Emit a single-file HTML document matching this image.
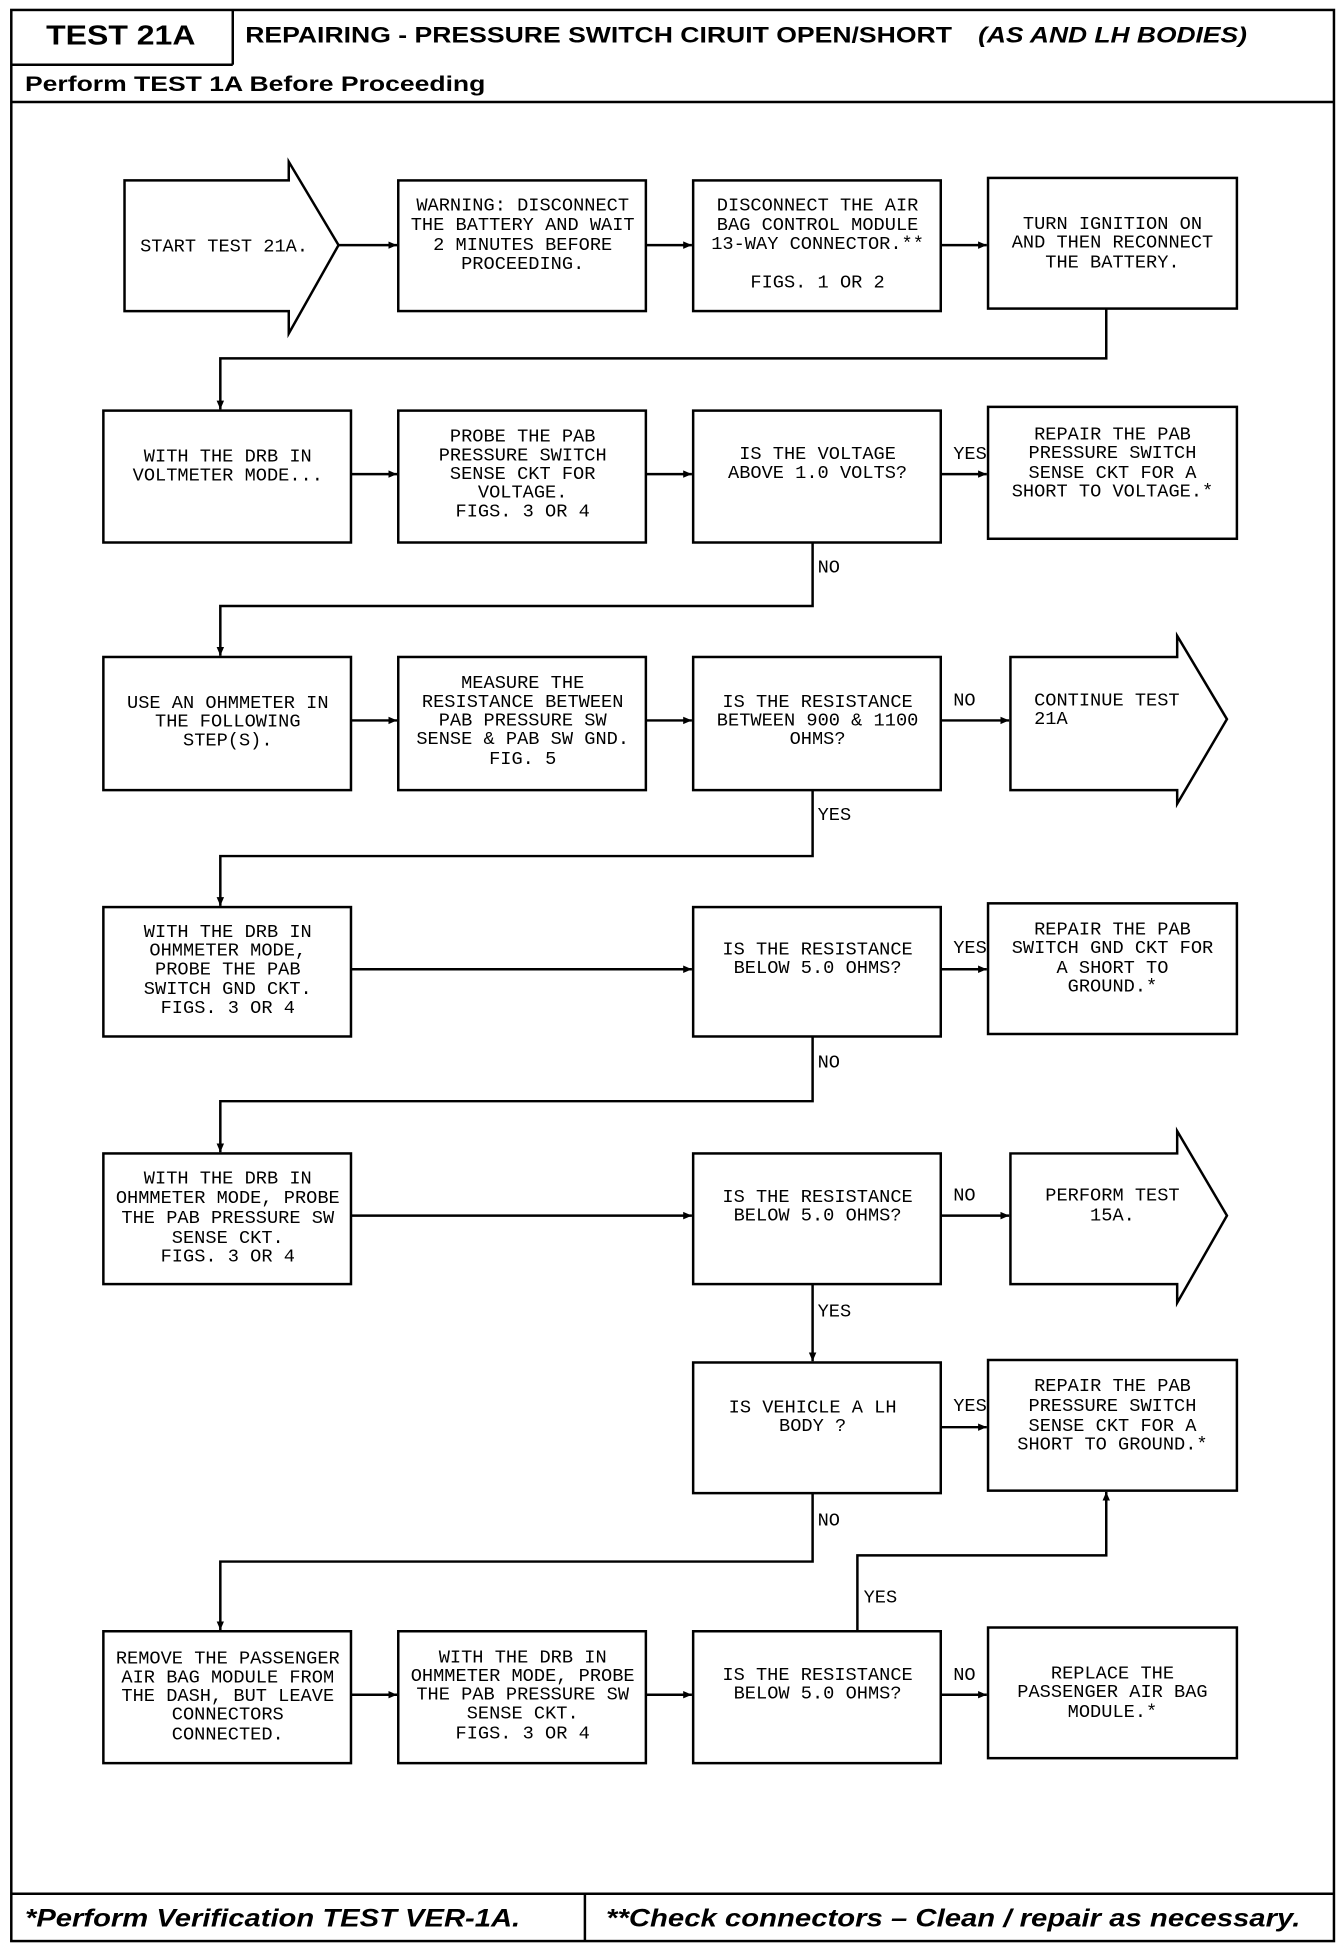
<!DOCTYPE html>
<html><head><meta charset="utf-8"><style>
html,body{margin:0;padding:0;background:#fff}
svg{display:block}
.t{font-family:"Liberation Mono",monospace;font-size:15px;text-anchor:middle;dominant-baseline:central;fill:#000}
.l{text-anchor:start}
.h{font-family:"Liberation Sans",sans-serif;font-weight:bold;fill:#000;dominant-baseline:central}
</style></head><body>
<svg width="1344" height="1956" viewBox="0 0 1080 1572" xmlns="http://www.w3.org/2000/svg">
<defs><marker id="a" markerWidth="8" markerHeight="8" refX="7" refY="4" orient="auto" markerUnits="userSpaceOnUse"><path d="M0,1 L7,4 L0,7 z" fill="#000"/></marker></defs>
<g fill="none" stroke="#000" stroke-width="2">
<rect x="9" y="8" width="1063" height="1552"/>
<line x1="9" y1="52" x2="187" y2="52"/><line x1="187" y1="8" x2="187" y2="52"/>
<line x1="9" y1="82" x2="1072" y2="82"/>
<line x1="9" y1="1522" x2="1072" y2="1522"/><line x1="470" y1="1522" x2="470" y2="1560"/>
<!-- row1 -->
<path d="M100,145 H232 V130 L272,197 L232,268 V250 H100 Z"/>
<rect x="320" y="145" width="199" height="105"/>
<rect x="557" y="145" width="199" height="105"/>
<rect x="794" y="143" width="200" height="105"/>
<!-- row2 -->
<rect x="83" y="330" width="199" height="106"/>
<rect x="320" y="330" width="199" height="106"/>
<rect x="557" y="330" width="199" height="106"/>
<rect x="794" y="327" width="200" height="106"/>
<!-- row3 -->
<rect x="83" y="528" width="199" height="107"/>
<rect x="320" y="528" width="199" height="107"/>
<rect x="557" y="528" width="199" height="107"/>
<path d="M812,528 H946 V511 L986,578 L946,646 V635 H812 Z"/>
<!-- row4 -->
<rect x="83" y="729" width="199" height="104"/>
<rect x="557" y="729" width="199" height="104"/>
<rect x="794" y="726" width="200" height="105"/>
<!-- row5 -->
<rect x="83" y="927" width="199" height="105"/>
<rect x="557" y="927" width="199" height="105"/>
<path d="M812,927 H946 V909 L986,977 L946,1047 V1032 H812 Z"/>
<!-- row6 -->
<rect x="557" y="1095" width="199" height="105"/>
<rect x="794" y="1093" width="200" height="105"/>
<!-- row7 -->
<rect x="83" y="1311" width="199" height="106"/>
<rect x="320" y="1311" width="199" height="106"/>
<rect x="557" y="1311" width="199" height="106"/>
<rect x="794" y="1308" width="200" height="105"/>
</g>
<g fill="none" stroke="#000" stroke-width="2" marker-end="url(#a)">
<line x1="272" y1="197" x2="319" y2="197"/>
<line x1="519" y1="197" x2="556" y2="197"/>
<line x1="756" y1="197" x2="793" y2="197"/>
<path d="M889,248 V288 H177 V329"/>
<line x1="282" y1="381" x2="319" y2="381"/>
<line x1="519" y1="381" x2="556" y2="381"/>
<line x1="756" y1="381" x2="793" y2="381"/>
<path d="M653,436 V487 H177 V527"/>
<line x1="282" y1="579" x2="319" y2="579"/>
<line x1="519" y1="579" x2="556" y2="579"/>
<line x1="756" y1="579" x2="811" y2="579"/>
<path d="M653,635 V688 H177 V728"/>
<line x1="282" y1="779" x2="556" y2="779"/>
<line x1="756" y1="779" x2="793" y2="779"/>
<path d="M653,833 V885 H177 V926"/>
<line x1="282" y1="977" x2="556" y2="977"/>
<line x1="756" y1="977" x2="811" y2="977"/>
<line x1="653" y1="1032" x2="653" y2="1094"/>
<line x1="756" y1="1147" x2="793" y2="1147"/>
<path d="M653,1200 V1255 H177 V1310"/>
<line x1="282" y1="1362" x2="319" y2="1362"/>
<line x1="519" y1="1362" x2="556" y2="1362"/>
<line x1="756" y1="1362" x2="793" y2="1362"/>
<path d="M689,1311 V1250 H889 V1199"/>
</g>
<!-- header -->
<text class="h" x="37" y="28" font-size="22" textLength="120" lengthAdjust="spacingAndGlyphs">TEST 21A</text>
<text class="h" x="197" y="28" font-size="18" textLength="568" lengthAdjust="spacingAndGlyphs">REPAIRING - PRESSURE SWITCH CIRUIT OPEN/SHORT</text>
<text class="h" x="786" y="28" font-size="18" font-style="italic" textLength="216" lengthAdjust="spacingAndGlyphs">(AS AND LH BODIES)</text>
<text class="h" x="20" y="68" font-size="17" textLength="370" lengthAdjust="spacingAndGlyphs">Perform TEST 1A Before Proceeding</text>
<text class="h" x="20" y="1542" font-size="20" font-style="italic" textLength="398" lengthAdjust="spacingAndGlyphs">*Perform Verification TEST VER-1A.</text>
<text class="h" x="487" y="1542" font-size="20" font-style="italic" textLength="558" lengthAdjust="spacingAndGlyphs">**Check connectors – Clean / repair as necessary.</text>
<!-- row1 -->
<text class="t" x="180" y="198">START TEST 21A.</text>
<text class="t" x="420" y="165">WARNING: DISCONNECT</text><text class="t" x="420" y="181">THE BATTERY AND WAIT</text><text class="t" x="420" y="197">2 MINUTES BEFORE</text><text class="t" x="420" y="212">PROCEEDING.</text>
<text class="t" x="657" y="165">DISCONNECT THE AIR</text><text class="t" x="657" y="181">BAG CONTROL MODULE</text><text class="t" x="657" y="196">13-WAY CONNECTOR.**</text><text class="t" x="657" y="227">FIGS. 1 OR 2</text>
<text class="t" x="894" y="180">TURN IGNITION ON</text><text class="t" x="894" y="195">AND THEN RECONNECT</text><text class="t" x="894" y="211">THE BATTERY.</text>
<!-- row2 -->
<text class="t" x="183" y="367">WITH THE DRB IN</text><text class="t" x="183" y="382">VOLTMETER MODE...</text>
<text class="t" x="420" y="351">PROBE THE PAB</text><text class="t" x="420" y="366">PRESSURE SWITCH</text><text class="t" x="420" y="381">SENSE CKT FOR</text><text class="t" x="420" y="396">VOLTAGE.</text><text class="t" x="420" y="411">FIGS. 3 OR 4</text>
<text class="t" x="657" y="365">IS THE VOLTAGE</text><text class="t" x="657" y="380">ABOVE 1.0 VOLTS?</text>
<text class="t" x="894" y="349">REPAIR THE PAB</text><text class="t" x="894" y="364">PRESSURE SWITCH</text><text class="t" x="894" y="380">SENSE CKT FOR A</text><text class="t" x="894" y="395">SHORT TO VOLTAGE.*</text>
<text class="t l" x="766" y="365">YES</text><text class="t l" x="657" y="456">NO</text>
<!-- row3 -->
<text class="t" x="183" y="565">USE AN OHMMETER IN</text><text class="t" x="183" y="580">THE FOLLOWING</text><text class="t" x="183" y="595">STEP(S).</text>
<text class="t" x="420" y="549">MEASURE THE</text><text class="t" x="420" y="564">RESISTANCE BETWEEN</text><text class="t" x="420" y="579">PAB PRESSURE SW</text><text class="t" x="420" y="594">SENSE &amp; PAB SW GND.</text><text class="t" x="420" y="610">FIG. 5</text>
<text class="t" x="657" y="564">IS THE RESISTANCE</text><text class="t" x="657" y="579">BETWEEN 900 &amp; 1100</text><text class="t" x="657" y="594">OHMS?</text>
<text class="t l" x="831" y="563">CONTINUE TEST</text><text class="t l" x="831" y="578">21A</text>
<text class="t l" x="766" y="563">NO</text><text class="t l" x="657" y="655">YES</text>
<!-- row4 -->
<text class="t" x="183" y="749">WITH THE DRB IN</text><text class="t" x="183" y="764">OHMMETER MODE,</text><text class="t" x="183" y="779">PROBE THE PAB</text><text class="t" x="183" y="795">SWITCH GND CKT.</text><text class="t" x="183" y="810">FIGS. 3 OR 4</text>
<text class="t" x="657" y="763">IS THE RESISTANCE</text><text class="t" x="657" y="778">BELOW 5.0 OHMS?</text>
<text class="t" x="894" y="747">REPAIR THE PAB</text><text class="t" x="894" y="762">SWITCH GND CKT FOR</text><text class="t" x="894" y="778">A SHORT TO</text><text class="t" x="894" y="793">GROUND.*</text>
<text class="t l" x="766" y="762">YES</text><text class="t l" x="657" y="854">NO</text>
<!-- row5 -->
<text class="t" x="183" y="947">WITH THE DRB IN</text><text class="t" x="183" y="963">OHMMETER MODE, PROBE</text><text class="t" x="183" y="979">THE PAB PRESSURE SW</text><text class="t" x="183" y="995">SENSE CKT.</text><text class="t" x="183" y="1010">FIGS. 3 OR 4</text>
<text class="t" x="657" y="962">IS THE RESISTANCE</text><text class="t" x="657" y="977">BELOW 5.0 OHMS?</text>
<text class="t" x="894" y="961">PERFORM TEST</text><text class="t" x="894" y="977">15A.</text>
<text class="t l" x="766" y="961">NO</text><text class="t l" x="657" y="1054">YES</text>
<!-- row6 -->
<text class="t" x="653" y="1131">IS VEHICLE A LH</text><text class="t" x="653" y="1146">BODY ?</text>
<text class="t" x="894" y="1114">REPAIR THE PAB</text><text class="t" x="894" y="1130">PRESSURE SWITCH</text><text class="t" x="894" y="1146">SENSE CKT FOR A</text><text class="t" x="894" y="1161">SHORT TO GROUND.*</text>
<text class="t l" x="766" y="1130">YES</text><text class="t l" x="657" y="1222">NO</text>
<!-- row7 -->
<text class="t" x="183" y="1333">REMOVE THE PASSENGER</text><text class="t" x="183" y="1348">AIR BAG MODULE FROM</text><text class="t" x="183" y="1363">THE DASH, BUT LEAVE</text><text class="t" x="183" y="1378">CONNECTORS</text><text class="t" x="183" y="1394">CONNECTED.</text>
<text class="t" x="420" y="1332">WITH THE DRB IN</text><text class="t" x="420" y="1347">OHMMETER MODE, PROBE</text><text class="t" x="420" y="1362">THE PAB PRESSURE SW</text><text class="t" x="420" y="1377">SENSE CKT.</text><text class="t" x="420" y="1393">FIGS. 3 OR 4</text>
<text class="t" x="657" y="1346">IS THE RESISTANCE</text><text class="t" x="657" y="1361">BELOW 5.0 OHMS?</text>
<text class="t" x="894" y="1345">REPLACE THE</text><text class="t" x="894" y="1360">PASSENGER AIR BAG</text><text class="t" x="894" y="1376">MODULE.*</text>
<text class="t l" x="766" y="1346">NO</text><text class="t l" x="694" y="1284">YES</text>
</svg>
</body></html>
